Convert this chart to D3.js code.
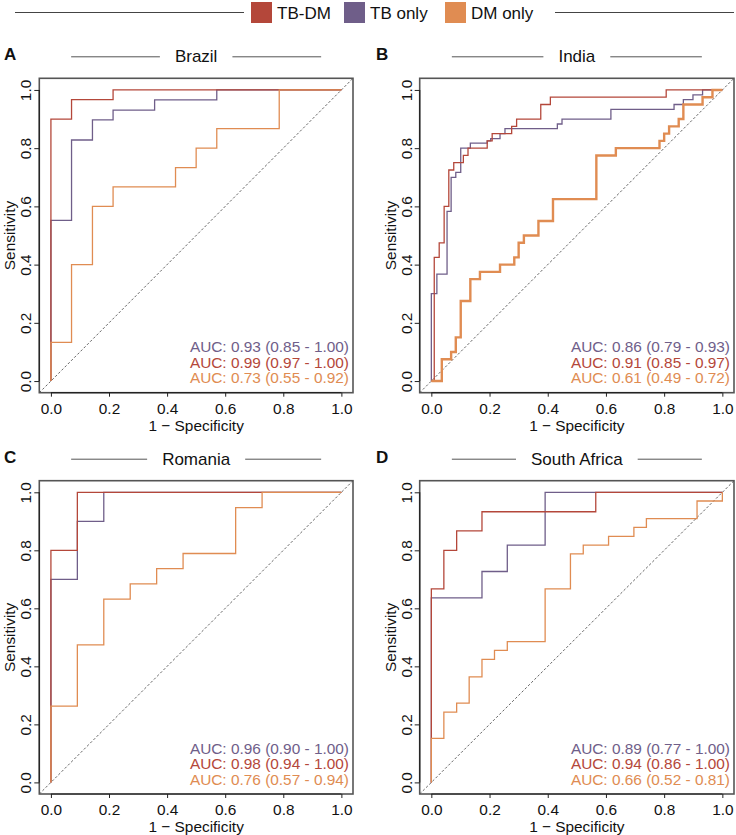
<!DOCTYPE html>
<html>
<head>
<meta charset="utf-8">
<script src="https://cdn.jsdelivr.net/npm/d3@7"></script>
<style>
  html, body { margin: 0; padding: 0; background: #fff; }
  svg { display: block; font-family: "Liberation Sans", Arial, Helvetica, sans-serif; }
</style>
</head>
<body>
<svg id="chart" width="736" height="835"></svg>
<script>
// ---------------- DATA ----------------
const groups = ["TB-DM", "TB only", "DM only"];
const groupColors = ["#B4473A", "#6F5E89", "#E08C52"];
const panelLetters = ["A", "B", "C", "D"];
const countries = ["Brazil", "India", "Romania", "South Africa"];
const xTicks = [0, 0.2, 0.4, 0.6, 0.8, 1.0];
const yTicks = [0, 0.2, 0.4, 0.6, 0.8, 1.0];

// ROC step corners: x = 1 - specificity where sensitivity jumps, y = sensitivity reached
const brazil_tbdm_x = [0, 0.071, 0.214];
const brazil_tbdm_y = [0.90, 0.967, 1.0];
const brazil_tb_x = [0, 0.071, 0.143, 0.214, 0.357, 0.571];
const brazil_tb_y = [0.552, 0.828, 0.897, 0.931, 0.966, 1.0];
const brazil_dm_x = [0, 0.071, 0.143, 0.214, 0.429, 0.5, 0.571, 0.786];
const brazil_dm_y = [0.133, 0.40, 0.60, 0.667, 0.733, 0.80, 0.867, 1.0];

const india_tbdm_x = [0.01, 0.027, 0.044, 0.06, 0.077, 0.11, 0.126, 0.192, 0.209, 0.276, 0.293, 0.376, 0.409, 0.807];
const india_tbdm_y = [0.425, 0.475, 0.60, 0.725, 0.75, 0.775, 0.80, 0.825, 0.85, 0.875, 0.90, 0.95, 0.975, 1.0];
const india_tb_x = [0, 0.019, 0.054, 0.068, 0.084, 0.101, 0.134, 0.192, 0.204, 0.236, 0.253, 0.433, 0.449, 0.617, 0.834, 0.866, 0.899, 0.932];
const india_tb_y = [0.30, 0.367, 0.583, 0.70, 0.717, 0.80, 0.817, 0.825, 0.833, 0.85, 0.867, 0.883, 0.90, 0.933, 0.95, 0.967, 0.983, 1.0];
const india_dm_x = [0.036, 0.068, 0.084, 0.101, 0.134, 0.167, 0.236, 0.285, 0.30, 0.318, 0.368, 0.418, 0.567, 0.634, 0.784, 0.80, 0.817, 0.85, 0.866, 0.932, 0.966];
const india_dm_y = [0.075, 0.10, 0.15, 0.275, 0.35, 0.375, 0.40, 0.425, 0.475, 0.50, 0.55, 0.625, 0.775, 0.80, 0.825, 0.85, 0.875, 0.90, 0.95, 0.975, 1.0];

const romania_tbdm_x = [0, 0.091];
const romania_tbdm_y = [0.80, 1.0];
const romania_tb_x = [0, 0.091, 0.182];
const romania_tb_y = [0.70, 0.90, 1.0];
const romania_dm_x = [0, 0.091, 0.182, 0.273, 0.364, 0.455, 0.636, 0.727];
const romania_dm_y = [0.263, 0.474, 0.632, 0.684, 0.737, 0.789, 0.947, 1.0];

const safrica_tbdm_x = [0, 0.043, 0.087, 0.174, 0.565];
const safrica_tbdm_y = [0.667, 0.80, 0.867, 0.933, 1.0];
const safrica_tb_x = [0, 0.174, 0.261, 0.391];
const safrica_tb_y = [0.636, 0.727, 0.818, 1.0];
const safrica_dm_x = [0, 0.043, 0.087, 0.130, 0.174, 0.217, 0.261, 0.391, 0.478, 0.522, 0.609, 0.696, 0.739, 0.913, 1.0];
const safrica_dm_y = [0.152, 0.242, 0.273, 0.364, 0.424, 0.455, 0.485, 0.667, 0.788, 0.818, 0.848, 0.879, 0.909, 0.970, 1.0];

// AUC labels (order: TB-DM, TB only, DM only)
const brazil_auc = ["AUC: 0.99 (0.97 - 1.00)", "AUC: 0.93 (0.85 - 1.00)", "AUC: 0.73 (0.55 - 0.92)"];
const india_auc = ["AUC: 0.91 (0.85 - 0.97)", "AUC: 0.86 (0.79 - 0.93)", "AUC: 0.61 (0.49 - 0.72)"];
const romania_auc = ["AUC: 0.98 (0.94 - 1.00)", "AUC: 0.96 (0.90 - 1.00)", "AUC: 0.76 (0.57 - 0.94)"];
const safrica_auc = ["AUC: 0.94 (0.86 - 1.00)", "AUC: 0.89 (0.77 - 1.00)", "AUC: 0.66 (0.52 - 0.81)"];

// ---------------- LAYOUT ----------------
const panels = [
  { country: countries[0], letter: panelLetters[0], box: [39.3, 78.3, 353, 392.7], letterX: 4,
    curves: [[brazil_tbdm_x, brazil_tbdm_y], [brazil_tb_x, brazil_tb_y], [brazil_dm_x, brazil_dm_y]], auc: brazil_auc, dmWidth: 1.3 },
  { country: countries[1], letter: panelLetters[1], box: [419.7, 78.3, 734, 392.7], letterX: 376,
    curves: [[india_tbdm_x, india_tbdm_y], [india_tb_x, india_tb_y], [india_dm_x, india_dm_y]], auc: india_auc, dmWidth: 2.4 },
  { country: countries[2], letter: panelLetters[2], box: [39.3, 480.7, 353, 794], letterX: 4,
    curves: [[romania_tbdm_x, romania_tbdm_y], [romania_tb_x, romania_tb_y], [romania_dm_x, romania_dm_y]], auc: romania_auc, dmWidth: 1.3 },
  { country: countries[3], letter: panelLetters[3], box: [419.7, 480.7, 734, 794], letterX: 376,
    curves: [[safrica_tbdm_x, safrica_tbdm_y], [safrica_tb_x, safrica_tb_y], [safrica_dm_x, safrica_dm_y]], auc: safrica_auc, dmWidth: 1.3 }
];

const svg = d3.select("#chart");
const fs = 15.4;

// ---------------- LEGEND ----------------
const legend = svg.append("g");
legend.append("line").attr("x1", 15).attr("x2", 244).attr("y1", 12.5).attr("y2", 12.5)
  .attr("stroke", "#444").attr("stroke-width", 1);
legend.append("line").attr("x1", 555).attr("x2", 734).attr("y1", 12.5).attr("y2", 12.5)
  .attr("stroke", "#444").attr("stroke-width", 1);
const legX = [251, 344, 445];
groups.forEach((g, i) => {
  legend.append("rect").attr("x", legX[i]).attr("y", 2).attr("width", 21).attr("height", 21)
    .attr("fill", groupColors[i]);
  legend.append("text").attr("x", legX[i] + 26).attr("y", 12.5).attr("dy", "0.36em")
    .attr("font-size", 17).attr("fill", "#111").text(g);
});

// ---------------- PANELS ----------------
const drawOrder = [1, 0, 2]; // TB only, TB-DM, DM only (on top)
const aucOrder = [1, 0, 2];   // text rows from top

panels.forEach((p, pi) => {
  const [x0, y0, x1, y1] = p.box;
  const g = svg.append("g");
  const x = d3.scaleLinear().domain([-0.04, 1.04]).range([x0, x1]);
  const y = d3.scaleLinear().domain([-0.04, 1.04]).range([y1, y0]);
  const cx = (x0 + x1) / 2;
  const ty = y0 - 22;

  // panel letter
  g.append("text").attr("x", p.letterX).attr("y", ty - 2).attr("dy", "0.36em")
    .attr("font-size", 17).attr("font-weight", "bold").attr("fill", "#111").text(p.letter);

  // title with flanking lines
  const title = g.append("text").attr("x", cx).attr("y", ty).attr("dy", "0.36em")
    .attr("text-anchor", "middle").attr("font-size", 17).attr("fill", "#111").text(p.country);
  const tw = title.node().getComputedTextLength();
  const gap = 15, half = 125;
  g.append("line").attr("x1", cx - half).attr("x2", cx - tw / 2 - gap).attr("y1", ty + 0.5).attr("y2", ty + 0.5)
    .attr("stroke", "#555").attr("stroke-width", 1);
  g.append("line").attr("x1", cx + tw / 2 + gap).attr("x2", cx + half).attr("y1", ty + 0.5).attr("y2", ty + 0.5)
    .attr("stroke", "#555").attr("stroke-width", 1);

  // clip
  const clipId = "clip" + pi;
  svg.append("clipPath").attr("id", clipId).append("rect")
    .attr("x", x0).attr("y", y0).attr("width", x1 - x0).attr("height", y1 - y0);

  const plot = g.append("g").attr("clip-path", `url(#${clipId})`);

  // diagonal reference
  plot.append("line")
    .attr("x1", x(-0.04)).attr("y1", y(-0.04)).attr("x2", x(1.04)).attr("y2", y(1.04))
    .attr("stroke", "#555").attr("stroke-width", 0.9).attr("stroke-dasharray", "2.5,2");

  // curves
  const line = d3.line().x(d => x(d[0])).y(d => y(d[1])).curve(d3.curveStepAfter);
  drawOrder.forEach(ci => {
    const [cxs, cys] = p.curves[ci];
    const pts = [[0, 0]].concat(cxs.map((v, k) => [v, cys[k]]));
    pts.push([1, 1]);
    plot.append("path").attr("d", line(pts)).attr("fill", "none")
      .attr("stroke", groupColors[ci])
      .attr("stroke-width", ci === 2 ? p.dmWidth : 1.3)
      .attr("stroke-linejoin", "miter");
  });

  // box
  g.append("rect").attr("x", x0).attr("y", y0).attr("width", x1 - x0).attr("height", y1 - y0)
    .attr("fill", "none").attr("stroke", "#555").attr("stroke-width", 1.6);

  // axes
  const xAxis = d3.axisBottom(x).tickValues(xTicks).tickFormat(d3.format(".1f")).tickSize(4).tickPadding(2);
  const gx = g.append("g").attr("transform", `translate(0,${y1})`).call(xAxis);
  gx.select(".domain").remove();
  gx.selectAll(".tick line").attr("stroke", "#222");
  gx.selectAll(".tick text").attr("font-size", fs).attr("fill", "#111")
    .attr("font-family", "'Liberation Sans', Arial, sans-serif")
    .attr("y", 15.5).attr("dy", "0.36em");

  const yAxis = d3.axisLeft(y).tickValues(yTicks).tickFormat(d3.format(".1f")).tickSize(5);
  const gy = g.append("g").attr("transform", `translate(${x0},0)`).call(yAxis);
  gy.select(".domain").remove();
  gy.selectAll(".tick line").attr("stroke", "#222");
  gy.selectAll(".tick text").attr("font-size", fs).attr("fill", "#111")
    .attr("font-family", "'Liberation Sans', Arial, sans-serif")
    .attr("x", 0).attr("dy", "0.36em").attr("text-anchor", "middle")
    .attr("transform", "translate(-13.5,0) rotate(-90)");

  // axis lines (dark, from first to last tick)
  g.append("line").attr("x1", x(0)).attr("x2", x(1)).attr("y1", y1).attr("y2", y1)
    .attr("stroke", "#222").attr("stroke-width", 1.2);
  g.append("line").attr("x1", x0).attr("x2", x0).attr("y1", y(0)).attr("y2", y(1))
    .attr("stroke", "#222").attr("stroke-width", 1.2);

  // axis titles
  g.append("text").attr("x", cx).attr("y", y1 + 32.5).attr("dy", "0.36em")
    .attr("text-anchor", "middle").attr("font-size", fs).attr("fill", "#111").text("1 \u2212 Specificity");
  g.append("text").attr("transform", `translate(${x0 - 29.5},${(y0 + y1) / 2}) rotate(-90)`)
    .attr("dy", "0.36em").attr("text-anchor", "middle").attr("font-size", fs).attr("fill", "#111")
    .text("Sensitivity");

  // AUC labels
  aucOrder.forEach((ci, row) => {
    g.append("text").attr("x", x1 - 4).attr("y", y1 - 46 + row * 15.5).attr("dy", "0.36em")
      .attr("text-anchor", "end").attr("font-size", fs).attr("fill", groupColors[ci])
      .text(p.auc[ci]);
  });
});
</script>
</body>
</html>
